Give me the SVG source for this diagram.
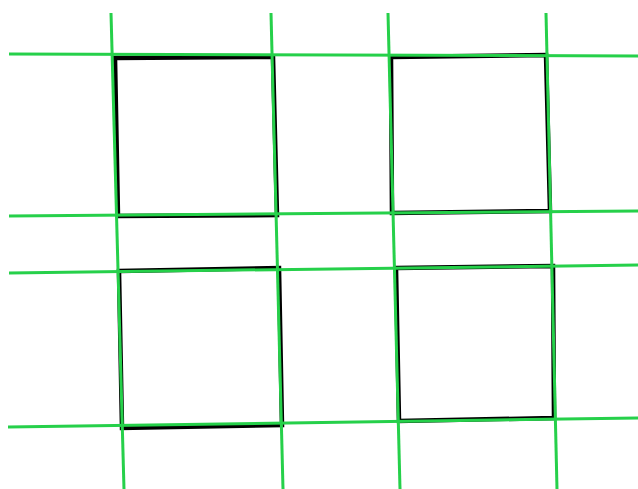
<svg xmlns="http://www.w3.org/2000/svg" width="638" height="489" viewBox="0 0 638 489">
<style>
.sq{fill:none;stroke:#000;stroke-width:4.5;stroke-linejoin:miter}
.ln{stroke:#26d04a;stroke-width:3;fill:none}
</style>
<rect width="638" height="489" fill="#fff"/>
<g id="square1"><polygon class="sq" points="115,58 273,57 277,215 118,216"/></g>
<g id="square2"><polygon class="sq" points="391,57 546,55 550,211 392,213"/></g>
<g id="square3"><polygon class="sq" points="119,271 279,268 282,425 122,428"/></g>
<g id="square4"><polygon class="sq" points="396,268 553,266 554,418 399,421"/></g>
<g id="lines">
<line class="ln" x1="9" y1="54" x2="638" y2="56"/>
<line class="ln" x1="9" y1="216" x2="638" y2="211"/>
<line class="ln" x1="9" y1="273" x2="638" y2="265"/>
<line class="ln" x1="8" y1="427" x2="638" y2="418"/>
<line class="ln" x1="111" y1="13" x2="124" y2="489"/>
<line class="ln" x1="271" y1="13" x2="283" y2="489"/>
<line class="ln" x1="388" y1="13" x2="400" y2="489"/>
<line class="ln" x1="546" y1="13" x2="557" y2="489"/>
</g>
</svg>
